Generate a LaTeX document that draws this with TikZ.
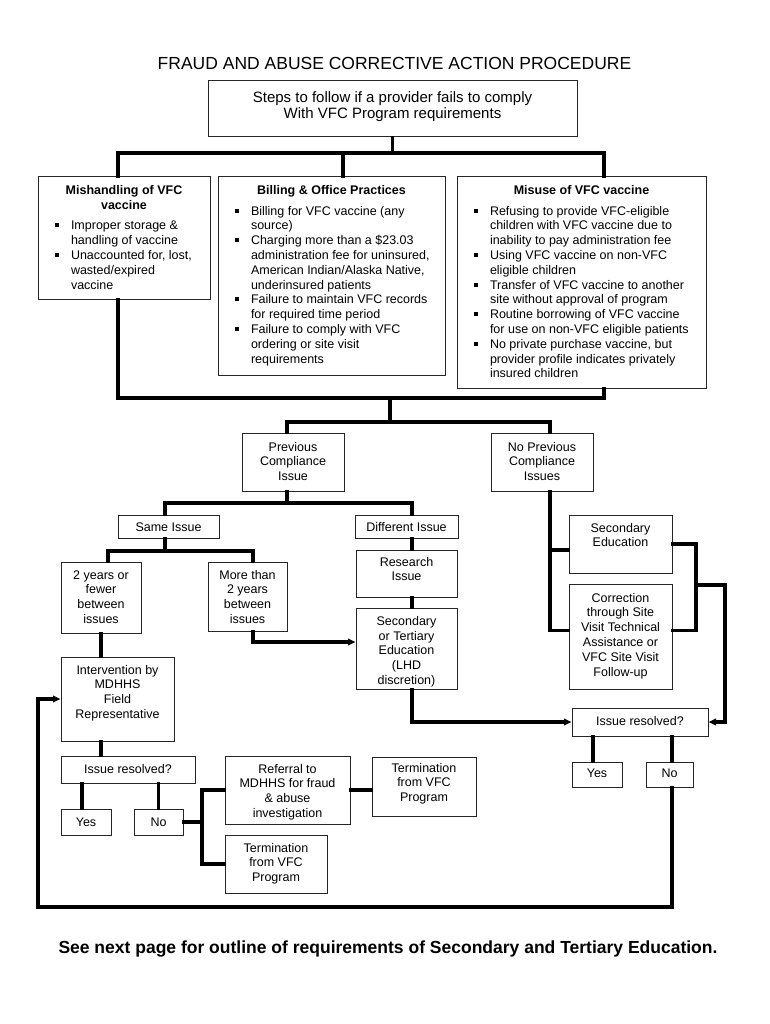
\documentclass[tikz,border=0pt]{standalone}
\usepackage{fontspec}
\setmainfont{Liberation Sans}
\usetikzlibrary{arrows.meta}
\tikzset{
  bx/.style={draw=black!85, line width=1pt, inner sep=0pt, fill=white},
  conn/.style={line width=3.2pt, line cap=rect},
  arr/.style={-{Triangle[length=7.5pt,width=6.5pt]}},
}
% name, x1, y1, x2, y2, top pad, alignment/font, content
\newcommand\bxx[8]{\node[bx] (#1) at ({(#2+#4)/2},{(#3+#5)/2})
  {\parbox[c][\dimexpr#5pt-#3pt\relax][t]{\dimexpr#4pt-#2pt\relax}{\fontsize{12.5}{14.8}\selectfont#7\vspace*{#6pt}\strut#8}};}
\newcommand\itm{\par\noindent\hspace*{-16pt}\makebox[16pt][l]{\rule[2.5pt]{4pt}{4pt}}}
\newcommand\bulletset{\leftskip=33pt \rightskip=-30pt plus 1fil\relax}
\begin{document}
\begin{tikzpicture}[x=1pt,y=-1pt]
\fill[white] (0,0) rectangle (770,1024);
\useasboundingbox (0,0) rectangle (770,1024);

\node[font=\fontsize{17.5}{20}\selectfont, anchor=base] (title) at (394.5,69.3) {FRAUD AND ABUSE CORRECTIVE ACTION PROCEDURE};
\node[font=\fontsize{17.5}{20}\selectfont\bfseries, anchor=base] (foot) at (388,953.3) {See next page for outline of requirements of Secondary and Tertiary Education.};

\bxx{top}{208}{81}{577}{137}{9.6}{\fontsize{15}{16.5}\selectfont\centering}{Steps to follow if a provider fails to comply\\With VFC Program requirements}

\bxx{b1}{38}{177}{210}{299}{7.5}{\raggedright}{{\centering\bfseries Mishandling of VFC\\vaccine\par}\vspace{5.5pt}\bulletset
\itm Improper storage \&\\handling of vaccine
\itm Unaccounted for, lost,\\wasted/expired\\vaccine\par}

\bxx{b2}{218}{177}{445}{375}{7.5}{\raggedright}{{\centering\bfseries Billing \& Office Practices\par}\vspace{5.5pt}\bulletset
\itm Billing for VFC vaccine (any\\source)
\itm Charging more than a \$23.03\\administration fee for uninsured,\\American Indian/Alaska Native,\\underinsured patients
\itm Failure to maintain VFC records\\for required time period
\itm Failure to comply with VFC\\ordering or site visit\\requirements\par}

\bxx{b3}{457}{177}{706}{388}{7.5}{\raggedright}{{\centering\bfseries Misuse of VFC vaccine\par}\vspace{5.5pt}\bulletset
\itm Refusing to provide VFC-eligible\\children with VFC vaccine due to\\inability to pay administration fee
\itm Using VFC vaccine on non-VFC\\eligible children
\itm Transfer of VFC vaccine to another\\site without approval of program
\itm Routine borrowing of VFC vaccine\\for use on non-VFC eligible patients
\itm No private purchase vaccine, but\\provider profile indicates privately\\insured children\par}

\bxx{prev}{242}{433}{344}{491}{7.8}{\centering}{Previous\\Compliance\\Issue}
\bxx{noprev}{491}{433}{593}{491}{7.8}{\centering}{No Previous\\Compliance\\Issues}
\bxx{same}{118}{515}{219}{538}{5.8}{\centering}{Same Issue}
\bxx{diff}{355}{515}{458}{538}{5.8}{\centering}{Different Issue}
\bxx{research}{356}{550}{457}{597}{5.8}{\centering}{Research\\Issue}
\bxx{sectert}{356}{608}{457}{689}{7}{\centering}{Secondary\\or Tertiary\\Education\\(LHD\\discretion)}
\bxx{secEd}{569}{515}{672}{573}{6.8}{\centering}{Secondary\\Education}
\bxx{corr}{569}{584}{672}{689}{7.8}{\centering}{Correction\\through Site\\Visit Technical\\Assistance or\\VFC Site Visit\\Follow-up}
\bxx{two}{61}{562}{141}{633}{6.8}{\centering}{2 years or\\fewer\\between\\issues}
\bxx{more}{208}{562}{287}{631}{6.8}{\centering}{More than\\2 years\\between\\issues}
\bxx{interv}{61}{657}{174}{741}{6.8}{\centering}{Intervention by\\MDHHS\\Field\\Representative}
\bxx{issL}{61}{756}{195}{783}{6.8}{\centering}{Issue resolved?}
\bxx{yesL}{61}{809}{111}{835}{6.8}{\centering}{Yes}
\bxx{noL}{134}{809}{183}{835}{6.8}{\centering}{No}
\bxx{ref}{225}{756}{350}{824}{6.8}{\centering}{Referral to\\MDHHS for fraud\\\& abuse\\investigation}
\bxx{term1}{372}{757}{476}{816}{4.8}{\centering}{Termination\\from VFC\\Program}
\bxx{term2}{225}{835}{327}{893}{6.8}{\centering}{Termination\\from VFC\\Program}
\bxx{issR}{572}{708}{708}{736}{6.8}{\centering}{Issue resolved?}
\bxx{yesR}{572}{762}{622}{787}{4.8}{\centering}{Yes}
\bxx{noR}{646}{762}{693}{787}{4.8}{\centering}{No}

% junctions
\coordinate (r1) at (118,153);
\coordinate (r3) at (604,153);
\coordinate (s1) at (118,398);
\coordinate (s2) at (390,398);
\coordinate (s3) at (604,398);
\coordinate (t1) at (287,422);
\coordinate (t2) at (390,422);
\coordinate (t3) at (550,422);
\coordinate (u1) at (165,503);
\coordinate (u2) at (412,503);
\coordinate (v1) at (108,551);
\coordinate (v2) at (253,551);
\coordinate (w1) at (253,642);
\coordinate (k1) at (202,790);
\coordinate (m1) at (696,585);
\coordinate (m2) at (725,585);
\coordinate (L1) at (672,907);
\coordinate (L2) at (38,907);
\coordinate (sb) at ([yshift=-6pt]secEd.west);
\coordinate (cw) at ([yshift=6pt]corr.west);
\coordinate (ce) at ([yshift=6pt]corr.east);

% top tree
\draw[conn] (top.south) -- (top.south |- r1);
\draw[conn] (r1 |- b1.north) -- (r1) -- (r3) -- (r3 |- b3.north);
\draw[conn] ([xshift=11.5pt]b2.north |- r1) -- ([xshift=11.5pt]b2.north);
% gathering bar
\draw[conn] (s1 |- b1.south) -- (s1) -- (s3) -- (s3 |- b3.south);
\draw[conn] (s2) -- (t2);
\draw[conn] (t1 |- prev.north) -- (t1) -- (t3) -- (t3 |- noprev.north);
% previous compliance branch
\draw[conn] (t1 |- prev.south) -- (t1 |- u1);
\draw[conn] (u1 |- same.north) -- (u1) -- (u2) -- (u2 |- diff.north);
\draw[conn] (u1 |- same.south) -- (u1 |- v1);
\draw[conn] (v1 |- two.north) -- (v1) -- (v2) -- (v2 |- more.north);
\draw[conn] (u2 |- diff.south) -- (u2 |- research.north);
\draw[conn] (u2 |- research.south) -- (u2 |- sectert.north);
\draw[conn,arr] (v2 |- more.south) -- (w1) -- (w1 -| sectert.west);
\draw[conn] (two.south) -- (two.south |- interv.north);
\draw[conn] (two.south |- interv.south) -- (two.south |- issL.north);
\draw[conn] ([xshift=-4pt]yesL.north |- issL.south) -- ([xshift=-4pt]yesL.north);
\draw[conn] (noL.north |- issL.south) -- (noL.north);
\draw[conn] (noL.east) -- (noL.east -| k1);
\draw[conn] (ref.west) -- (ref.west -| k1) -- (term2.west -| k1) -- (term2.west);
\draw[conn] (ref.east) -- (ref.east -| term1.west);
\draw[conn,arr] (u2 |- sectert.south) -- (u2 |- issR.west) -- (issR.west);
% no previous branch
\draw[conn] (t3 |- noprev.south) -- (t3 |- cw) -- (cw);
\draw[conn] (t3 |- sb) -- (sb);
\draw[conn] (secEd.east) -- (secEd.east -| m1) -- (m1 |- ce) -- (ce);
\draw[conn,arr] (m1) -- (m2) -- (m2 |- issR.east) -- (issR.east);
\draw[conn] ([xshift=-4pt]yesR.north |- issR.south) -- ([xshift=-4pt]yesR.north);
\draw[conn] ([xshift=2.5pt]noR.north |- issR.south) -- ([xshift=2.5pt]noR.north);
% loop back
\draw[conn,arr] ([xshift=2.5pt]noR.south) -- (L1) -- (L2) -- (L2 |- interv.west) -- (interv.west);
\end{tikzpicture}
\end{document}
